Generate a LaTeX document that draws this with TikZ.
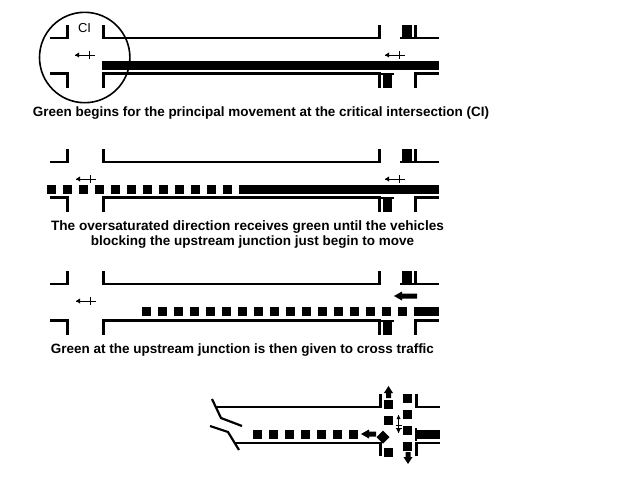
\documentclass[tikz,border=0pt]{standalone}
\usepackage{fontspec}
\setmainfont{Liberation Sans}
\newcommand{\fitw}[2]{\resizebox{#1pt}{!}{\strut #2}}
\tikzset{
  kerb/.style={draw=black,line width=2.2pt,miter limit=4},
  solid block/.style={fill=black,draw=none},
  caption/.style={inner sep=0pt,font=\bfseries\fontsize{12}{14}\selectfont,anchor=center},
  thin/.style={draw=black,line width=1pt},
}
% road with kerbs: #1 top kerb y, #2 bottom kerb y
\newcommand{\roadway}[2]{
  \draw[kerb] (50,#1) -- (67.5,#1) -- (67.5,#1-13);
  \draw[kerb] (103.5,#1-13) -- (103.5,#1) -- (379.5,#1) -- (379.5,#1-13);
  \draw[kerb] (415.5,#1-13) -- (415.5,#1) -- (439,#1);
  \draw[kerb] (50,#2) -- (67.5,#2) -- (67.5,#2+14);
  \draw[kerb] (103.5,#2+14) -- (103.5,#2) -- (379.5,#2) -- (379.5,#2+14);
  \draw[kerb] (415.5,#2+14) -- (415.5,#2) -- (439,#2);
  \fill[solid block] (402,#1-13) rectangle (412,#1);
  \fill[solid block] (400,#1-1) rectangle (414,#1+1);
  \fill[solid block] (383,#2) rectangle (392,#2+14);
  \fill[solid block] (381,#2-1) rectangle (394,#2+1);
}
\newcommand{\thinarrow}[2]{
  \draw[thin] (#1,#2) -- (#1+20,#2);
  \draw[thin] (#1+14.5,#2-4) -- (#1+14.5,#2+4);
  \fill[black] (#1,#2) -- (#1+4,#2-2.5) -- (#1+4,#2+2.5) -- cycle;
}
\newcommand{\sq}[2]{\fill[solid block] (#1,#2) rectangle (#1+8.5,#2+9);}
\begin{document}
\begin{tikzpicture}[x=1pt,y=-1pt]
\useasboundingbox (0,0) rectangle (640,480);
\fill[white] (0,0) rectangle (640,480);
% panel 1
\roadway{38}{73.5}
\fill[solid block] (102,61) rectangle (439,70);
\draw[line width=1.6pt] (84.7,57.5) circle (45.2);
\node[inner sep=0pt,font=\fontsize{13}{15}\selectfont] (ci) at (84.5,28) {CI};
\thinarrow{75}{55}
\thinarrow{385}{55}
\node[caption] (c1) at (261,113.5) {\fitw{456}{Green begins for the principal movement at the critical intersection (CI)}};
% panel 2
\roadway{162}{197.5}
\foreach \x in {47,63,...,223} {\sq{\x}{185}}
\fill[solid block] (239,185) rectangle (439,194);
\thinarrow{76}{179}
\thinarrow{385}{179}
\node[caption] (c2a) at (247.5,227.5) {\fitw{393}{The oversaturated direction receives green until the vehicles}};
\node[caption] (c2b) at (252.5,242.5) {\fitw{323}{blocking the upstream junction just begin to move}};
% panel 3
\roadway{284}{320.5}
\foreach \x in {142,158,...,398} {\sq{\x}{307}}
\fill[solid block] (414,307) rectangle (439,316);
\thinarrow{76}{301}
\fill[solid block] (394,296) -- (402,291.5) -- (402,293.5) -- (417,293.5) -- (417,298.5) -- (402,298.5) -- (402,300.5) -- cycle;
\node[caption] (c3) at (242.5,350.5) {\fitw{383}{Green at the upstream junction is then given to cross traffic}};
% panel 4
\draw[kerb] (217,407) -- (380.5,407) -- (380.5,394);
\draw[kerb] (416.5,394) -- (416.5,407) -- (440,407);
\draw[kerb] (235,443) -- (380.5,443) -- (380.5,456);
\draw[kerb] (416.5,456) -- (416.5,443) -- (440,443);
\draw[line width=2.2pt] (212,399) -- (221,418) -- (242,426);
\draw[line width=2.2pt] (210,426) -- (228,432) -- (239,450);
\foreach \x in {253,269,...,349} {\sq{\x}{430}}
\foreach \y in {400,416,448} {\sq{384}{\y}}
\foreach \y in {394,410,426,442} {\sq{403}{\y}}
\fill[solid block] (416,430) rectangle (440,439);
\fill[solid block] (415,428) rectangle (417,441);
\fill[solid block] (383,430.5) -- (389.5,437) -- (383,443.5) -- (376.5,437) -- cycle;
\fill[solid block] (361,434) -- (369,429.5) -- (369,431.5) -- (376,431.5) -- (376,436.5) -- (369,436.5) -- (369,438.5) -- cycle;
\fill[solid block] (388.5,386) -- (393,393) -- (391,393) -- (391,398) -- (386,398) -- (386,393) -- (384,393) -- cycle;
\fill[solid block] (408,464) -- (403.5,457) -- (405.5,457) -- (405.5,452) -- (410.5,452) -- (410.5,457) -- (412.5,457) -- cycle;
\draw[thin] (398.5,415) -- (398.5,433);
\draw[thin] (395.5,425) -- (401.5,425);
\draw[thin] (395.5,428) -- (401.5,428);
\fill[black] (398.5,415) -- (396.5,419) -- (400.5,419) -- cycle;
\fill[black] (398.5,433) -- (396.5,429) -- (400.5,429) -- cycle;
\end{tikzpicture}
\end{document}
